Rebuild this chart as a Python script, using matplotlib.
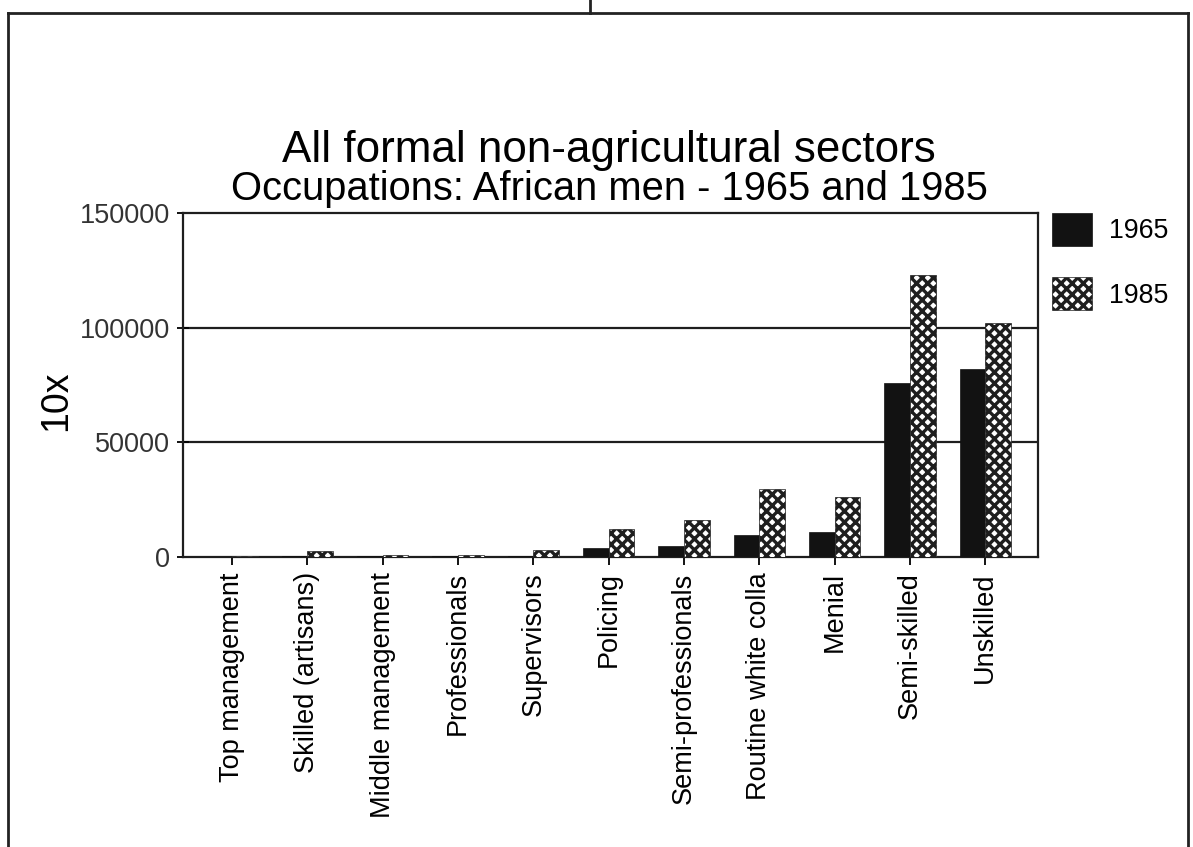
import matplotlib
matplotlib.use("Agg")
import matplotlib.pyplot as plt
from matplotlib.lines import Line2D
import numpy as np

# Occupation categories and counts for African men, 1965 vs 1985
categories = [
    "Top management", "Skilled (artisans)", "Middle management", "Professionals",
    "Supervisors", "Policing", "Semi-professionals", "Routine white colla",
    "Menial", "Semi-skilled", "Unskilled",
]
men_1965 = [150, 300, 400, 400, 600, 4000, 5000, 9500, 11000, 76000, 82000]
men_1985 = [250, 2700, 900, 900, 3000, 12000, 16000, 29500, 26000, 123000, 102000]
series_labels = ["1965", "1985"]
y_ticks = [0, 50000, 100000, 150000]

plt.rcParams["font.family"] = ["Liberation Sans", "DejaVu Sans"]
plt.rcParams["hatch.linewidth"] = 2.4

fig = plt.figure(figsize=(11.93, 8.47), dpi=100)
ax = fig.add_axes([183 / 1193, 1 - 557 / 847, (1038 - 183) / 1193, (557 - 213) / 847])

x = np.arange(len(categories))
w = 0.34
ax.bar(x - w / 2, men_1965, width=w, color="#121212", edgecolor="#121212",
       linewidth=0.5, label=series_labels[0], zorder=3)
ax.bar(x + w / 2, men_1985, width=w, color="white", edgecolor="#1e1e1e",
       hatch="xxx", linewidth=0.5, label=series_labels[1], zorder=3)

ax.set_xlim(-0.65, 10.7)
ax.set_ylim(0, 150000)
ax.set_yticks(y_ticks)
ax.set_yticklabels([str(v) for v in y_ticks], fontsize=19.5, color="#333333")
ax.set_xticks(x)
ax.set_xticklabels(categories, rotation=90, fontsize=19.5, ha="center", va="top")
ax.tick_params(axis="y", direction="inout", length=9, width=1.3, pad=5)
ax.tick_params(axis="x", direction="out", length=6, width=1.3, pad=5)
for y in y_ticks[1:3]:
    ax.axhline(y, color="#1e1e1e", linewidth=1.6, zorder=1)
for s in ax.spines.values():
    s.set_linewidth(1.6)
    s.set_color("#1e1e1e")

fig.text(56 / 1193, 1 - 401 / 847, "10x", rotation=90, ha="center", va="center",
         fontsize=27)

fig.text(609 / 1193, 1 - 162 / 847, "All formal non-agricultural sectors",
         ha="center", va="baseline", fontsize=31.7)
fig.text(609 / 1193, 1 - 200 / 847, "Occupations: African men - 1965 and 1985",
         ha="center", va="baseline", fontsize=28.7)

ax.legend(loc="upper left", bbox_to_anchor=(1052 / 1193, 1 - 213 / 847),
          bbox_transform=fig.transFigure, frameon=False, fontsize=19.3,
          borderpad=0, borderaxespad=0, handlelength=1.48, handleheight=1.5,
          handletextpad=0.65, labelspacing=1.18)

# Outer panel frame
frame_kw = dict(color="#222222", linewidth=2, transform=fig.transFigure)
top = 1 - 13 / 847
fig.add_artist(Line2D([8 / 1193, 1188 / 1193], [top, top], **frame_kw))
fig.add_artist(Line2D([8 / 1193, 8 / 1193], [0, top], **frame_kw))
fig.add_artist(Line2D([1188 / 1193, 1188 / 1193], [0, top], **frame_kw))
fig.add_artist(Line2D([590 / 1193, 590 / 1193], [top, 1], **frame_kw))

fig.savefig("out.png", dpi=100)
